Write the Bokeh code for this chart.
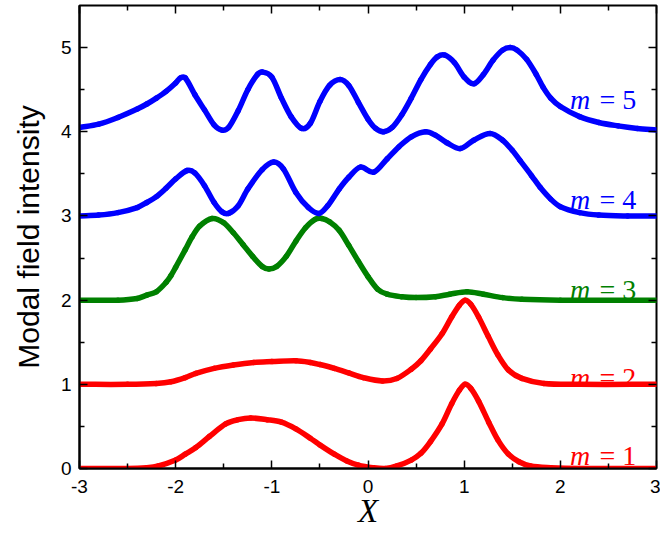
from bokeh.plotting import figure
from bokeh.models import LinearAxis, FixedTicker, Range1d
from bokeh.core.properties import value
from bokeh.embed import file_html
from bokeh.resources import INLINE

# ---- data ----
x_m1 = [-3.0,-2.5,-2.3,-2.18,-2.0,-1.9,-1.79,-1.65,-1.48,-1.35,-1.22,-1.05,-0.9,-0.75,-0.6,-0.5,-0.35,-0.22,-0.1,0.05,0.18,0.3,0.45,0.55,0.65,0.77,0.87,0.95,1.01,1.07,1.15,1.255,1.35,1.46,1.57,1.69,1.9,2.2,3.0]
y_m1 = [0.0,0.0,0.01,0.03,0.10,0.17,0.25,0.38,0.53,0.58,0.60,0.58,0.55,0.47,0.36,0.28,0.17,0.09,0.04,0.01,0.0,0.03,0.10,0.18,0.32,0.53,0.77,0.93,1.0,0.95,0.80,0.55,0.34,0.17,0.08,0.03,0.01,0.0,0.0]

x_m2 = [-3.0,-2.5,-2.2,-2.05,-1.9,-1.79,-1.6,-1.4,-1.19,-1.0,-0.75,-0.6,-0.5,-0.35,-0.2,-0.05,0.15,0.3,0.45,0.55,0.65,0.77,0.87,0.95,1.01,1.07,1.15,1.25,1.35,1.46,1.6,1.83,2.2,3.0]
y_m2 = [1.0,1.0,1.01,1.03,1.08,1.13,1.19,1.23,1.26,1.27,1.28,1.26,1.235,1.19,1.135,1.08,1.04,1.07,1.18,1.28,1.42,1.60,1.80,1.94,2.0,1.95,1.80,1.57,1.35,1.17,1.07,1.01,1.0,1.0]

x_m3 = [-3.0,-2.6,-2.4,-2.3,-2.2,-2.1,-2.05,-2.0,-1.9,-1.83,-1.75,-1.62,-1.5,-1.4,-1.3,-1.2,-1.1,-1.03,-0.95,-0.85,-0.75,-0.65,-0.55,-0.48,-0.4,-0.3,-0.2,-0.1,0.0,0.1,0.2,0.35,0.5,0.7,0.85,1.03,1.2,1.4,1.6,2.0,3.0]
y_m3 = [2.0,2.0,2.02,2.06,2.10,2.21,2.29,2.39,2.60,2.75,2.88,2.97,2.92,2.80,2.66,2.52,2.40,2.37,2.40,2.52,2.70,2.86,2.96,2.97,2.93,2.83,2.65,2.46,2.28,2.13,2.07,2.04,2.03,2.04,2.07,2.10,2.07,2.03,2.01,2.0,2.0]

x_m4 = [-3.0,-2.8,-2.6,-2.4,-2.3,-2.2,-2.1,-2.0,-1.88,-1.8,-1.7,-1.6,-1.52,-1.45,-1.35,-1.25,-1.1,-0.98,-0.88,-0.75,-0.62,-0.51,-0.42,-0.3,-0.2,-0.08,0.06,0.2,0.32,0.45,0.6,0.7,0.82,0.96,1.1,1.27,1.4,1.5,1.58,1.7,1.79,1.9,2.0,2.2,2.4,2.7,3.0]
y_m4 = [3.0,3.01,3.04,3.10,3.16,3.23,3.33,3.44,3.54,3.51,3.36,3.16,3.05,3.03,3.12,3.32,3.55,3.64,3.56,3.28,3.10,3.03,3.12,3.32,3.46,3.58,3.52,3.68,3.82,3.94,4.0,3.96,3.87,3.80,3.90,3.98,3.90,3.78,3.66,3.48,3.34,3.20,3.11,3.04,3.01,3.0,3.0]

x_m5 = [-3.0,-2.8,-2.6,-2.4,-2.3,-2.2,-2.1,-2.0,-1.95,-1.9,-1.8,-1.7,-1.6,-1.52,-1.45,-1.35,-1.25,-1.15,-1.10,-1.0,-0.9,-0.8,-0.69,-0.6,-0.5,-0.4,-0.29,-0.2,-0.1,0.0,0.08,0.16,0.25,0.35,0.45,0.55,0.65,0.72,0.80,0.9,1.0,1.10,1.2,1.3,1.4,1.48,1.55,1.65,1.75,1.82,1.9,2.0,2.2,2.4,2.6,2.8,3.0]
y_m5 = [4.05,4.09,4.17,4.27,4.33,4.40,4.48,4.58,4.64,4.64,4.44,4.26,4.08,4.02,4.05,4.25,4.50,4.68,4.71,4.65,4.40,4.18,4.04,4.10,4.36,4.55,4.62,4.55,4.35,4.15,4.04,4.00,4.05,4.20,4.40,4.62,4.80,4.89,4.91,4.82,4.65,4.57,4.68,4.85,4.97,5.00,4.97,4.86,4.68,4.53,4.40,4.30,4.18,4.11,4.07,4.04,4.02]

mode_numbers = ["1", "2", "3", "4", "5"]

x_ticks = [-3, -2, -1, 0, 1, 2, 3]
x_tick_labels = ["-3", "-2", "-1", "0", "1", "2", "3"]
x_minor = [-2.5, -1.5, -0.5, 0.5, 1.5, 2.5]
y_ticks = [0, 1, 2, 3, 4, 5]
y_tick_labels = ["0", "1", "2", "3", "4", "5"]
y_minor = [0.5, 1.5, 2.5, 3.5, 4.5]

# ---- styling ----
BLUE = "#0000FF"
GREEN = "#008000"
RED = "#FF0000"
curve_colors = [RED, RED, GREEN, BLUE, BLUE]
label_y = [0.15, 1.08, 2.13, 3.20, 4.38]

p = figure(width=660, height=534, x_range=Range1d(-3, 3), y_range=Range1d(0, 5.5),
           output_backend="svg", toolbar_location=None,
           min_border_left=79, min_border_right=4, min_border_top=5, min_border_bottom=66)
p.xgrid.visible = False
p.ygrid.visible = False
p.outline_line_color = "black"
p.outline_line_width = 2
p.background_fill_color = "white"
p.border_fill_color = "white"

xt = FixedTicker(ticks=x_ticks, minor_ticks=x_minor)
yt = FixedTicker(ticks=y_ticks, minor_ticks=y_minor)

def style_axis(ax, ticker, labels=None):
    ax.ticker = ticker
    ax.major_tick_in = 8
    ax.major_tick_out = 0
    ax.minor_tick_in = 5
    ax.minor_tick_out = 0
    ax.major_tick_line_width = 1.5
    ax.minor_tick_line_width = 1.5
    ax.axis_line_width = 2
    ax.major_label_text_font = "Liberation Sans"
    ax.major_label_text_font_size = "19px"
    ax.major_label_text_color = "black"
    if labels is not None:
        ax.major_label_overrides = labels

xa = p.xaxis[0]
ya = p.yaxis[0]
style_axis(xa, xt, {t: l for t, l in zip(x_ticks, x_tick_labels)})
style_axis(ya, yt, {t: l for t, l in zip(y_ticks, y_tick_labels)})
xa.major_label_standoff = 11
ya.major_label_standoff = 8

xa.axis_label = "X"
xa.axis_label_text_font = "Liberation Serif"
xa.axis_label_text_font_style = "italic"
xa.axis_label_text_font_size = "33px"
xa.axis_label_text_color = "black"
xa.axis_label_standoff = -3

ya.axis_label = "Modal field intensity"
ya.axis_label_text_font = "Liberation Sans"
ya.axis_label_text_font_style = "normal"
ya.axis_label_text_font_size = "30px"
ya.axis_label_text_color = "black"
ya.axis_label_standoff = 13

top = LinearAxis()
style_axis(top, xt)
top.major_label_text_font_size = "0px"
top.major_label_standoff = 0
top.axis_line_color = None
p.add_layout(top, "above")

right = LinearAxis()
style_axis(right, yt)
right.major_label_text_font_size = "0px"
right.major_label_standoff = 0
right.axis_line_color = None
p.add_layout(right, "right")


def hermite_segments(xv, yv):
    """Smooth rendering of the read points: cubic Hermite segments as Bezier curves."""
    n = len(xv)
    slopes = []
    for i in range(n):
        a = max(i - 1, 0)
        b = min(i + 1, n - 1)
        slopes.append((yv[b] - yv[a]) / (xv[b] - xv[a]))
    x0, y0, x1, y1, cx0, cy0, cx1, cy1 = [], [], [], [], [], [], [], []
    for i in range(n - 1):
        h = xv[i + 1] - xv[i]
        x0.append(xv[i]); y0.append(yv[i])
        x1.append(xv[i + 1]); y1.append(yv[i + 1])
        cx0.append(xv[i] + h / 3); cy0.append(yv[i] + slopes[i] * h / 3)
        cx1.append(xv[i + 1] - h / 3); cy1.append(yv[i + 1] - slopes[i + 1] * h / 3)
    return dict(x0=x0, y0=y0, x1=x1, y1=y1, cx0=cx0, cy0=cy0, cx1=cx1, cy1=cy1)


xs = [x_m1, x_m2, x_m3, x_m4, x_m5]
ys = [y_m1, y_m2, y_m3, y_m4, y_m5]
for xv, yv, c in zip(xs, ys, curve_colors):
    seg = hermite_segments(xv, yv)
    p.bezier(x0="x0", y0="y0", x1="x1", y1="y1", cx0="cx0", cy0="cy0", cx1="cx1", cy1="cy1",
             source=seg, line_color=c, line_width=5.5, line_cap="round")

for n, c, ly in zip(mode_numbers, curve_colors, label_y):
    p.text(x=[2.10], y=[ly], text=["m"], text_color=c,
           text_font=value("Liberation Serif"), text_font_style="italic",
           text_font_size="28px", text_align="left", text_baseline="alphabetic")
    p.text(x=[2.79], y=[ly], text=["= " + n], text_color=c,
           text_font=value("Liberation Serif"), text_font_size="28px",
           text_align="right", text_baseline="alphabetic")

open("out.html", "w").write(file_html(p, INLINE))
